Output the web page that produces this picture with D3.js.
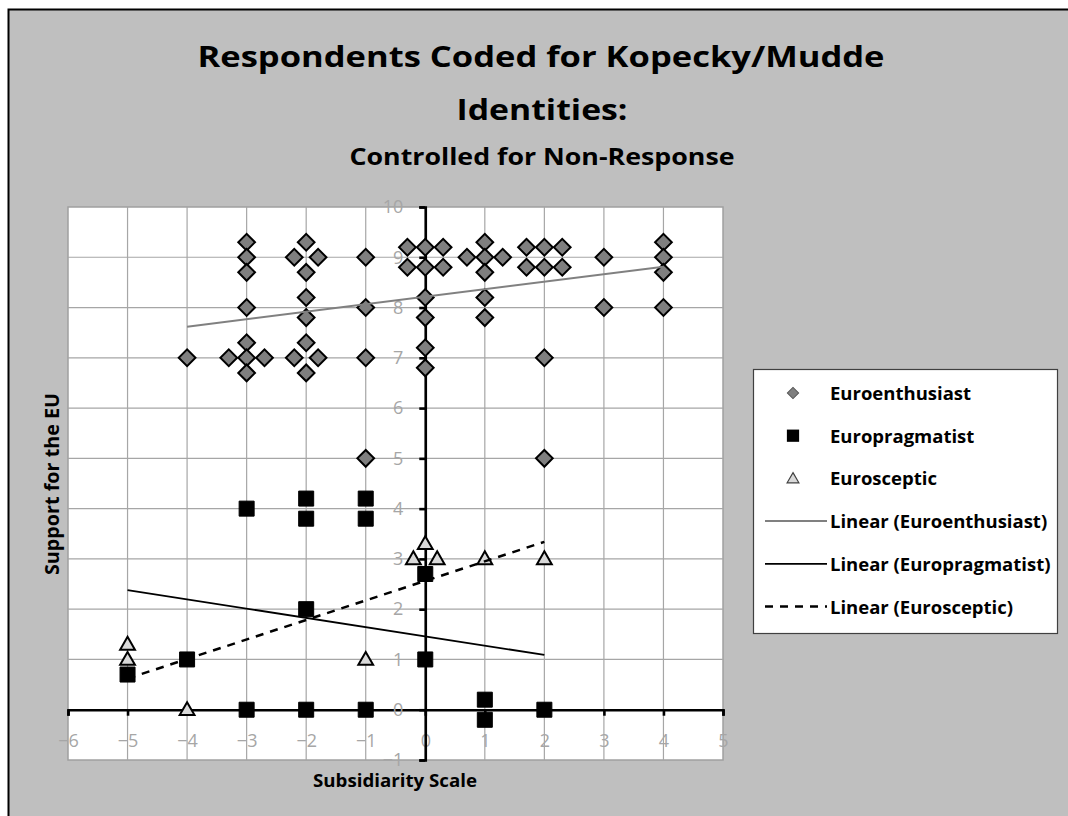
<!DOCTYPE html>
<html lang="en">
<head>
<meta charset="UTF-8">
<title>Kopecky/Mudde identities</title>
<script src="https://cdn.jsdelivr.net/npm/d3@7"></script>
<style>
    body { margin: 0; background: #fff; }
    svg { display: block; font-family: "Open Sans", sans-serif; font-variant-ligatures: none; }
</style>
</head>
<body>
<svg width="1068" height="816"></svg>
<script>
// values
var xTickValues = [-6, -5, -4, -3, -2, -1, 0, 1, 2, 3, 4, 5];
var yTickValues = [-1, 0, 1, 2, 3, 4, 5, 6, 7, 8, 9, 10];

var euroenthusiast = [
    [-4, 7],
    [-3.3, 7], [-3, 9.3], [-3, 9], [-3, 8.7], [-3, 8], [-3, 7.3], [-3, 7], [-3, 6.7], [-2.7, 7],
    [-2.2, 9], [-2, 9.3], [-1.8, 9], [-2, 8.7], [-2, 8.2], [-2, 7.8], [-2.2, 7], [-1.8, 7], [-2, 7.3], [-2, 6.7],
    [-1, 9], [-1, 8], [-1, 7], [-1, 5],
    [-0.3, 9.2], [-0.3, 8.8], [0, 9.2], [0, 8.8], [0.3, 9.2], [0.3, 8.8], [0, 8.2], [0, 7.8], [0, 7.2], [0, 6.8],
    [0.7, 9], [1, 9.3], [1, 9], [1.3, 9], [1, 8.7], [1, 8.2], [1, 7.8],
    [1.7, 9.2], [2, 9.2], [2.3, 9.2], [1.7, 8.8], [2, 8.8], [2.3, 8.8], [2, 7], [2, 5],
    [3, 9], [3, 8],
    [4, 9.3], [4, 9], [4, 8.7], [4, 8]
];
var europragmatist = [
    [-5, 0.7], [-4, 1], [-3, 4], [-3, 0], [-2, 4.2], [-2, 3.8], [-2, 2], [-2, 0],
    [-1, 4.2], [-1, 3.8], [-1, 0], [0, 2.7], [0, 1], [1, 0.2], [1, -0.2], [2, 0]
];
var eurosceptic = [
    [-5, 1.3], [-5, 1], [-4, 0], [-1, 1], [-0.2, 3], [0, 3.3], [0.2, 3], [1, 3], [2, 3]
];

// trendline end points as drawn in the original
var euroenthusiastTrend = [[-4, 7.62], [4, 8.81]];
var europragmatistTrend = [[-5, 2.38], [2, 1.09]];
var euroscepticTrend = [[-5, 0.62], [2, 3.34]];

var legendLabels = ['Euroenthusiast', 'Europragmatist', 'Eurosceptic',
    'Linear (Euroenthusiast)', 'Linear (Europragmatist)', 'Linear (Eurosceptic)'];

var svg = d3.select('svg');

// chart area
svg.append('rect')
    .attr('x', 8.5).attr('y', 9.5)
    .attr('width', 1080).attr('height', 830)
    .style('fill', '#bfbfbf')
    .style('stroke', '#000')
    .style('stroke-width', 2);

var x = d3.scaleLinear().domain([-6, 5]).range([68, 723]);
var y = d3.scaleLinear().domain([-1, 10]).range([760, 207]);

// titles
function fitText(sel, w) {
    sel.attr('textLength', w).attr('lengthAdjust', 'spacingAndGlyphs');
}
svg.append('text').attr('x', 541).attr('y', 67)
    .attr('text-anchor', 'middle').style('font-size', '29px').style('font-weight', 'bold')
    .text('Respondents Coded for Kopecky/Mudde').call(fitText, 687);
svg.append('text').attr('x', 542).attr('y', 120)
    .attr('text-anchor', 'middle').style('font-size', '29px').style('font-weight', 'bold')
    .text('Identities:').call(fitText, 171);
svg.append('text').attr('x', 542).attr('y', 165)
    .attr('text-anchor', 'middle').style('font-size', '24px').style('font-weight', 'bold')
    .text('Controlled for Non-Response').call(fitText, 385);

// plot area + grid
svg.append('rect')
    .attr('x', x(-6)).attr('y', y(10))
    .attr('width', x(5) - x(-6)).attr('height', y(-1) - y(10))
    .style('fill', '#fff')
    .style('stroke', '#a0a0a0')
    .style('stroke-width', 1.5);

svg.append('g').selectAll('line')
    .data(xTickValues.slice(1, -1))
    .enter().append('line')
    .attr('x1', d => x(d)).attr('x2', d => x(d))
    .attr('y1', y(10)).attr('y2', y(-1))
    .style('stroke', '#a6a6a6').style('stroke-width', 1.2);

svg.append('g').selectAll('line')
    .data(yTickValues.slice(1, -1))
    .enter().append('line')
    .attr('y1', d => y(d)).attr('y2', d => y(d))
    .attr('x1', x(-6)).attr('x2', x(5))
    .style('stroke', '#a6a6a6').style('stroke-width', 1.2);

// axes crossing at 0
var xAxis = svg.append('g')
    .attr('transform', 'translate(0,' + y(0) + ')')
    .call(d3.axisBottom(x).tickValues(xTickValues).tickSize(6).tickPadding(19));
var yAxis = svg.append('g')
    .attr('transform', 'translate(' + x(0) + ',0)')
    .call(d3.axisLeft(y).tickValues(yTickValues).tickSize(6).tickPadding(16));

[xAxis, yAxis].forEach(a => {
    a.selectAll('path, line').style('stroke', '#000').style('stroke-width', 2.6);
    a.selectAll('text')
        .style('fill', '#a6a6a6')
        .style('font-size', '18px')
        .style('font-family', '"Open Sans", sans-serif');
});

// axis titles
svg.append('text').attr('x', 395).attr('y', 787)
    .attr('text-anchor', 'middle').style('font-size', '18px').style('font-weight', 'bold')
    .text('Subsidiarity Scale').call(fitText, 164);
svg.append('text')
    .attr('transform', 'translate(59,484) rotate(-90)')
    .attr('text-anchor', 'middle').style('font-size', '19px').style('font-weight', 'bold')
    .text('Support for the EU').call(fitText, 182);

// markers
var diamond = d3.symbol().type(d3.symbolSquare).size(140);
var square = d3.symbol().type(d3.symbolSquare).size(225);
var triangle = d3.symbol().type(d3.symbolTriangle).size(95);

svg.append('g').selectAll('path')
    .data(euroenthusiast)
    .enter().append('path')
    .attr('d', diamond)
    .attr('transform', d => 'translate(' + x(d[0]) + ',' + y(d[1]) + ') rotate(45)')
    .style('fill', '#7f7f7f').style('stroke', '#000').style('stroke-width', 2);

svg.append('g').selectAll('path')
    .data(europragmatist)
    .enter().append('path')
    .attr('d', square)
    .attr('transform', d => 'translate(' + x(d[0]) + ',' + y(d[1]) + ')')
    .style('fill', '#000').style('stroke', '#000').style('stroke-width', 1);

svg.append('g').selectAll('path')
    .data(eurosceptic)
    .enter().append('path')
    .attr('d', triangle)
    .attr('transform', d => 'translate(' + x(d[0]) + ',' + (y(d[1]) + 1) + ')')
    .style('fill', '#d9d9d9').style('stroke', '#000').style('stroke-width', 2);

// trendlines
var line = d3.line().x(d => x(d[0])).y(d => y(d[1]));
var trendStyles = [
    { data: euroenthusiastTrend, color: '#808080', width: 2, dash: null },
    { data: europragmatistTrend, color: '#000', width: 1.8, dash: null },
    { data: euroscepticTrend, color: '#000', width: 2.5, dash: '8,7' }
];
trendStyles.forEach(t => {
    svg.append('path')
        .attr('d', line(t.data))
        .style('fill', 'none')
        .style('stroke', t.color)
        .style('stroke-width', t.width)
        .style('stroke-dasharray', t.dash);
});

// legend
var legend = svg.append('g');
legend.append('rect')
    .attr('x', 753.5).attr('y', 369.5)
    .attr('width', 304).attr('height', 264)
    .style('fill', '#fff').style('stroke', '#404040').style('stroke-width', 1.2);

var legendItems = legend.selectAll('g')
    .data(legendLabels)
    .enter().append('g')
    .attr('transform', (d, i) => 'translate(0,' + (393 + i * 42.7) + ')');

legendItems.append('text')
    .attr('x', 830).attr('y', 7)
    .style('font-size', '18.5px').style('font-weight', 'bold')
    .text(d => d);

legendItems.filter((d, i) => i === 0).append('path')
    .attr('d', d3.symbol().type(d3.symbolSquare).size(64))
    .attr('transform', 'translate(793,0) rotate(45)')
    .style('fill', '#7f7f7f').style('stroke', '#595959').style('stroke-width', 1);
legendItems.filter((d, i) => i === 1).append('path')
    .attr('d', d3.symbol().type(d3.symbolSquare).size(150))
    .attr('transform', 'translate(793,0)')
    .style('fill', '#000');
legendItems.filter((d, i) => i === 2).append('path')
    .attr('d', d3.symbol().type(d3.symbolTriangle).size(60))
    .attr('transform', 'translate(793,1)')
    .style('fill', '#d9d9d9').style('stroke', '#404040').style('stroke-width', 1.2);

legendItems.filter((d, i) => i >= 3).append('line')
    .attr('x1', 765).attr('x2', 827)
    .attr('y1', 0).attr('y2', 0)
    .style('stroke', (d, i) => trendStyles[i].color)
    .style('stroke-width', (d, i) => trendStyles[i].width)
    .style('stroke-dasharray', (d, i) => trendStyles[i].dash);
</script>
</body>
</html>
